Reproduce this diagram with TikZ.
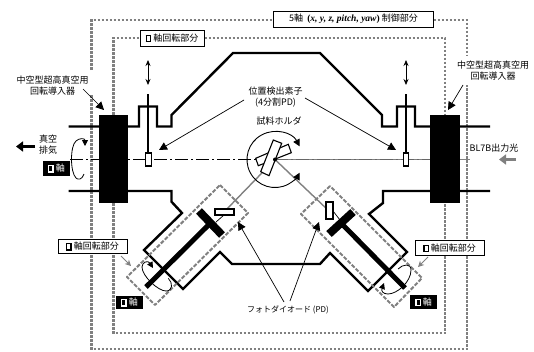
\documentclass[tikz,border=0pt]{standalone}
\usepackage{fontspec}
\setmainfont{Liberation Sans}
\newfontfamily\jp{Noto Sans CJK JP}
\newfontfamily\tms{Liberation Serif}
\usetikzlibrary{arrows.meta}
\definecolor{dgray}{gray}{0.5}
\tikzset{
 dashbox/.style={draw=dgray,line width=2.3pt,dash pattern=on 2.8pt off 1.2pt},
 diagbox/.style={draw=dgray,line width=2pt,dash pattern=on 4pt off 1.6pt,line join=round},
 chamber/.style={draw=black,line width=2.4pt,line join=miter},
 label/.style={font=\jp\fontsize{9}{11}\selectfont,align=center,inner sep=0pt},
 whitebox/.style={draw=black,fill=white,line width=1pt,font=\jp\fontsize{9}{11}\selectfont,inner sep=0pt},
 blackbox/.style={fill=black,text=white,font=\jp\fontsize{9}{11}\selectfont,inner sep=0pt},
 callout/.style={draw=black,line width=0.7pt,-{Triangle[length=8pt,width=8pt]}},
 grayarrow/.style={draw=dgray,line width=0.9pt,-{Stealth[length=6pt,width=6pt]}},
 beam/.style={draw=dgray,line width=1.4pt},
 axisline/.style={draw=black,line width=1.4pt,dash pattern=on 13pt off 3pt on 2pt off 3pt},
 pdrect/.style={draw=black,fill=white,line width=1.1pt},
 spin/.style={draw=black,line width=0.8pt},
 blockfill/.style={fill=black}
}
\newcommand{\sqw}{{\setlength{\fboxsep}{0pt}\setlength{\fboxrule}{1.4pt}\raisebox{0.2pt}{\fcolorbox{white}{black}{\rule{3pt}{0pt}\rule{0pt}{5pt}}}}}
\newcommand{\sqb}{{\setlength{\fboxsep}{0pt}\setlength{\fboxrule}{1.4pt}\raisebox{0.2pt}{\fcolorbox{black}{white}{\rule{3pt}{0pt}\rule{0pt}{5pt}}}}}
\begin{document}
\begin{tikzpicture}[x=1pt,y=-1pt]
\useasboundingbox (0,0) rectangle (534,351);
% dashed outlines
\draw[dashbox] (91.5,70) -- (91.5,20) -- (467,20) -- (467,55);
\draw[dashbox] (91.5,95) -- (91.5,349) -- (467,349) -- (467,85);
\draw[dashbox] (113.5,115) -- (113.5,38) -- (445,38) -- (445,115);
\draw[dashbox] (113.5,203) -- (113.5,333) -- (445,333) -- (445,203);
% beams
\coordinate (ctr) at (275,159.5);
\draw[beam] (ctr) -- (470,159.5);
\draw[beam] (ctr) -- (224,212);
\draw[beam] (ctr) -- (329,211);
\draw[axisline] (70,159.5) -- (275,159.5);
\draw[draw=black!60,line width=0.9pt,dash pattern=on 13pt off 3pt on 2pt off 3pt] (275,159.5) -- (430,159.5);
% chamber
\draw[chamber] (68.5,126.5) -- (139,126.5) -- (139,106.5) -- (157,106.5) -- (157,126.5) -- (171.5,126.5) -- (171.5,115) -- (233,53) -- (320,53) -- (382,115) -- (382,126.5) -- (397,126.5) -- (397,106.5) -- (415,106.5) -- (415,126.5) -- (490,126.5);
\draw[chamber] (68.5,191) -- (171.5,191) -- (171.5,201.7) -- (182,213) -- (144,250) -- (183,289) -- (220,252) -- (232,264) -- (320,264) -- (330,253) -- (368,291) -- (407,252) -- (369,214) -- (383,203) -- (383,191) -- (490,191);
% blocks
\fill[blockfill] (99,115) rectangle (128,203);
\fill[blockfill] (430,115) rectangle (460,203);
% sticks
\draw[line width=1.2pt] (148,94) -- (148,153);
\draw[line width=1.2pt] (406,94) -- (406,153);
\node[pdrect,minimum width=5.5pt,minimum height=13pt,inner sep=0pt] (pdl) at (148.5,159.5) {};
\node[pdrect,minimum width=5.5pt,minimum height=13pt,inner sep=0pt] (pdr) at (406,159.5) {};
% up-down arrows
\draw[line width=0.8pt,{Stealth[length=6pt,width=5pt]}-{Stealth[length=6pt,width=5pt]}] (148,60) -- (148,85);
\draw[line width=0.8pt,{Stealth[length=6pt,width=5pt]}-{Stealth[length=6pt,width=5pt]}] (406,60) -- (406,85);
% left flange
\draw[line width=8pt] (199,211) -- (222,235);
\draw[line width=5pt] (210.5,223) -- (146,287);
\draw[line width=0.7pt] (224,215) -- (216,222);
\draw[pdrect] (215,209) rectangle (234,215);
% right flange
\draw[line width=8pt] (329,234) -- (353,212);
\draw[line width=5pt] (341,223) -- (405,288);
\draw[line width=0.7pt] (333,211) -- (340,220);
\draw[pdrect] (326,202) rectangle (333,219);
% rotated dashed rectangles
\draw[diagbox] (220,185) -- (248,213) -- (155,305) -- (127,277) -- cycle;
\draw[diagbox] (330,186) -- (301,214) -- (394,307) -- (422,278) -- cycle;
% holder
\draw[pdrect] (255.7,158.3) -- (288.3,144.3) -- (291.3,152.7) -- (258.3,165.7) -- cycle;
\draw[pdrect] (273.3,140) -- (281.7,143.3) -- (269,175.7) -- (260.7,171.7) -- cycle;
\fill (ctr) circle (2pt);
\draw[line width=0.9pt,{Triangle[length=7pt,width=7pt]}-{Triangle[length=7pt,width=7pt]}] (299.7,146.4) arc[start angle=28,end angle=332,radius=28pt];
% rotation marks
\draw[spin,-{Triangle[length=6pt,width=6pt]}] (84,174) .. controls (82,180) and (78,180) .. (76,178) .. controls (70,172) and (70,146) .. (76,141) .. controls (79,138) and (85,138) .. (85,146);
\draw[spin,-{Triangle[length=6pt,width=6pt]}] (168.3,278.3) .. controls (173,283) and (173,291) .. (166,291) .. controls (158,291) and (142,276) .. (142,267) .. controls (142,262) and (148,260) .. (153,268);
\draw[spin,-{Triangle[length=6pt,width=6pt]}] (398,269) .. controls (403,264) and (411,263) .. (411,270) .. controls (411,282) and (397,294) .. (388,294) .. controls (383,294) and (381,291) .. (384,283);
% arrows
\draw[line width=2.2pt,-{Triangle[length=7pt,width=10pt]}] (35,146.5) -- (16,146.5);
\draw[line width=2.2pt,draw=dgray,-{Triangle[length=7pt,width=10pt]}] (516,159.5) -- (499,159.5);
% callouts
\coordinate (a1) at (83,89); \coordinate (a2) at (104,110);
\draw[callout] (a1) -- (a2);
\coordinate (b1) at (463,85); \coordinate (b2) at (448,110);
\draw[callout] (b1) -- (b2);
\coordinate (c1) at (244,100); \coordinate (c2) at (159,150);
\draw[callout] (c1) -- (c2);
\coordinate (d1) at (305,98); \coordinate (d2) at (396,150);
\draw[callout] (d1) -- (d2);
\coordinate (e1) at (284,302); \coordinate (e2) at (238,222);
\draw[callout] (e1) -- (e2);
\coordinate (f1) at (290,301); \coordinate (f2) at (319,222);
\draw[callout] (f1) -- (f2);
% labels
\node[label] (t1) at (52.5,85.5) {中空型超高真空用\\回転導入器};
\node[label] (t2) at (493,70.5) {中空型超高真空用\\回転導入器};
\node[label] (t3) at (275.5,97.5) {位置検出素子\\(4分割PD)};
\node[label] (t4) at (279,121) {試料ホルダ};
\node[label] (t5) at (48,145) {真空\\排気};
\node[label] (t6) at (494,148) {BL7B出力光};
\node[label,font=\jp\fontsize{8}{10}\selectfont] (t7) at (288,310) {フォトダイオード (PD)};
% boxes
\node[whitebox,minimum width=160.5pt,minimum height=16pt] (b5) at (353.5,19) {5軸\ \ {\tms\bfseries\fontsize{9.5}{11}\selectfont(\textit{x, y, z, pitch, yaw})} 制御部分};
\node[whitebox,minimum width=64pt,minimum height=16pt] (bx1) at (172,38) {\sqb\ 軸回転部分};
\node[whitebox,minimum width=69pt,minimum height=14.5pt] (bx2) at (92.5,246.5) {\sqb\ 軸回転部分};
\node[whitebox,minimum width=69pt,minimum height=14.5pt] (bx3) at (449.5,248) {\sqb\ 軸回転部分};
\node[blackbox,minimum width=27pt,minimum height=15pt] (k1) at (56.5,168.5) {\sqw\ 軸};
\node[blackbox,minimum width=27pt,minimum height=13.5pt] (k2) at (129.5,302.5) {\sqw\ 軸};
\node[blackbox,minimum width=27pt,minimum height=14pt] (k3) at (423.5,302) {\sqw\ 軸};
\coordinate (g1) at (121,256); \coordinate (g2) at (131,266);
\draw[grayarrow] (g1) -- (g2);
\coordinate (h1) at (428,257); \coordinate (h2) at (418,267);
\draw[grayarrow] (h1) -- (h2);
\end{tikzpicture}
\end{document}
